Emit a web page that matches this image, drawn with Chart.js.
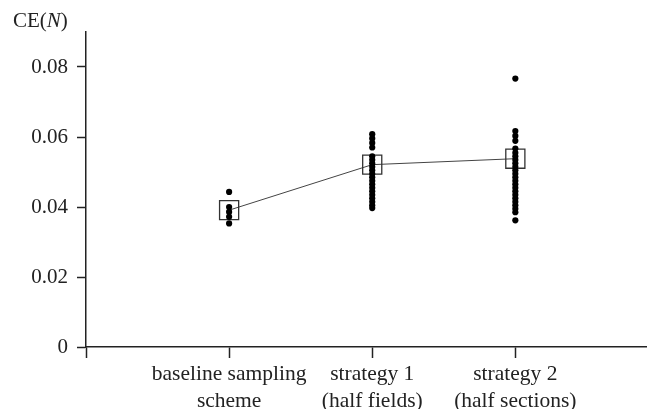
<!DOCTYPE html>
<html>
<head>
<meta charset="utf-8">
<script src="https://cdn.jsdelivr.net/npm/chart.js@4/dist/chart.umd.min.js"></script>
<style>
  html, body { margin: 0; padding: 0; background: #ffffff; }
  #wrap { width: 647px; height: 409px; position: relative; }
</style>
</head>
<body>
<div id="wrap"><canvas id="c" width="647" height="409"></canvas></div>
<script>
// ---- data ----
const categories = [
  ['baseline sampling', 'scheme'],
  ['strategy 1', '(half fields)'],
  ['strategy 2', '(half sections)']
];
const baselineVals = [0.0443, 0.0400, 0.0386, 0.0372, 0.0353];
const strategy1Vals = [0.0608, 0.0596, 0.0583, 0.0570, 0.0545, 0.0535, 0.0525, 0.0515,
  0.0505, 0.0495, 0.0485, 0.0475, 0.0465, 0.0455, 0.0445, 0.0435, 0.0425, 0.0415,
  0.0405, 0.0397];
const strategy2Vals = [0.0767, 0.0617, 0.0603, 0.0589, 0.0567, 0.0555, 0.0545, 0.0535,
  0.0525, 0.0515, 0.0505, 0.0495, 0.0485, 0.0475, 0.0465, 0.0455, 0.0445, 0.0435,
  0.0425, 0.0415, 0.0405, 0.0395, 0.0385, 0.0362];
const meanVals = [0.0391, 0.0521, 0.0538];
const yTickVals = [0, 0.02, 0.04, 0.06, 0.08];
const yAxisTitle = ['CE(', 'N', ')'];

// ---- build datasets ----
const seriesVals = [baselineVals, strategy1Vals, strategy2Vals];
const dotPoints = [];
seriesVals.forEach((arr, i) => arr.forEach(v => dotPoints.push({ x: i + 1, y: v })));
const meanPoints = meanVals.map((v, i) => ({ x: i + 1, y: v }));

const FONT = 'Liberation Serif';
const INK = '#222222';

const titlePlugin = {
  id: 'ceTitle',
  afterDraw(chart) {
    const ctx = chart.ctx;
    ctx.save();
    ctx.fillStyle = INK;
    ctx.textBaseline = 'alphabetic';
    let x = 13;
    const y = 27;
    ctx.font = '21px "' + FONT + '"';
    ctx.fillText(yAxisTitle[0], x, y);
    x += ctx.measureText(yAxisTitle[0]).width;
    ctx.font = 'italic 21px "' + FONT + '"';
    ctx.fillText(yAxisTitle[1], x, y);
    x += ctx.measureText(yAxisTitle[1]).width;
    ctx.font = '21px "' + FONT + '"';
    ctx.fillText(yAxisTitle[2], x, y);
    ctx.restore();
  }
};

new Chart(document.getElementById('c'), {
  data: {
    datasets: [
      {
        type: 'line',
        data: meanPoints,
        borderColor: '#444444',
        borderWidth: 1,
        pointStyle: 'rect',
        pointRadius: 13.5,
        pointBorderWidth: 1.3,
        pointBorderColor: '#333333',
        pointBackgroundColor: 'rgba(0,0,0,0)',
        order: 2
      },
      {
        type: 'scatter',
        data: dotPoints,
        pointRadius: 3.1,
        pointBackgroundColor: '#000000',
        pointBorderWidth: 0,
        order: 1
      }
    ]
  },
  options: {
    responsive: false,
    animation: false,
    devicePixelRatio: 1,
    layout: { autoPadding: false, padding: { top: 32, right: 0, bottom: 0, left: 0 } },
    plugins: { legend: { display: false }, tooltip: { enabled: false }, title: { display: false } },
    scales: {
      x: {
        type: 'linear',
        min: 0,
        max: 3.92,
        afterBuildTicks: s => { s.ticks = [0, 1, 2, 3].map(v => ({ value: v })); },
        afterFit: s => { s.height = 62; },
        ticks: {
          autoSkip: false,
          maxRotation: 0,
          padding: 3,
          color: INK,
          font: { family: FONT, size: 21.5, lineHeight: 1.25 },
          callback: v => (v === 0 ? '' : categories[v - 1])
        },
        grid: { drawOnChartArea: false, tickLength: 11, tickColor: INK, tickWidth: 1.5, color: INK },
        border: { color: INK, width: 1.5 }
      },
      y: {
        type: 'linear',
        min: 0,
        max: 0.09,
        afterBuildTicks: s => { s.ticks = yTickVals.map(v => ({ value: v })); },
        afterFit: s => { s.width = 86; },
        ticks: {
          padding: 9,
          color: INK,
          font: { family: FONT, size: 21 },
          callback: v => (v === 0 ? '0' : v.toFixed(2))
        },
        grid: { drawOnChartArea: false, tickLength: 9, tickColor: INK, tickWidth: 1.5, color: INK },
        border: { color: INK, width: 1.5 }
      }
    }
  },
  plugins: [titlePlugin]
});
</script>
</body>
</html>
